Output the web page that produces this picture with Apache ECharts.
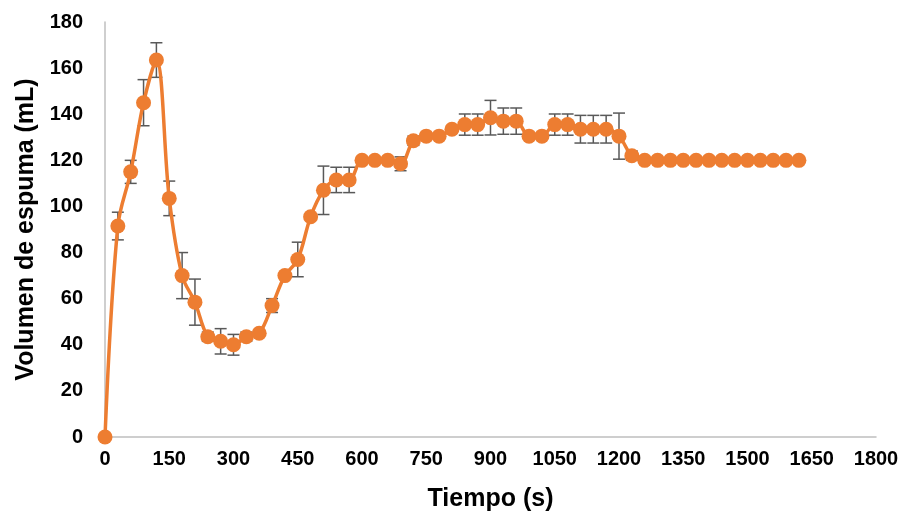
<!DOCTYPE html>
<html>
<head>
<meta charset="utf-8">
<script src="https://cdn.jsdelivr.net/npm/echarts@6/dist/echarts.min.js"></script>
<style>
html,body{margin:0;padding:0;background:#fff;}
#chart{width:905px;height:514px;}
</style>
</head>
<body>
<div id="chart"></div>
<script>
var times = [0,30,60,90,120,150,180,210,240,270,300,330,360,390,420,450,480,510,540,570,600,630,660,690,720,750,780,810,840,870,900,930,960,990,1020,1050,1080,1110,1140,1170,1200,1230,1260,1290,1320,1350,1380,1410,1440,1470,1500,1530,1560,1590,1620];
var volumes = [0,91.5,115,145,163.5,103.5,70,58.5,43.5,41.5,40,43.5,45,57,70,77,95.5,107,111.5,111.5,120,120,120,118.5,128.5,130.5,130.5,133.5,135.5,135.5,138.5,137,137,130.5,130.5,135.5,135.5,133.5,133.5,133.5,130.5,122,120,120,120,120,120,120,120,120,120,120,120,120,120];
var errors = [0,6,5,10,7.5,7.5,10,10,2,5.5,4.5,2,1,3,1,7.5,1,10.5,5.5,5.5,0,0,0,3,2,0,0,1.5,4.6,4.6,7.5,5.7,5.7,0,0,4.6,4.6,6,6,6,10,2,0,0,0,0,0,0,0,0,0,0,0,0,0];
var xTicks = [0,150,300,450,600,750,900,1050,1200,1350,1500,1650,1800];
var yTicks = [0,20,40,60,80,100,120,140,160,180];

var lineData = times.map(function(t,i){return [t, volumes[i]];});
var errData = times.map(function(t,i){return [t, volumes[i], errors[i]];}).filter(function(d){return d[2] > 0;});

var font = "Arial, 'Liberation Sans', sans-serif";
var chart = echarts.init(document.getElementById('chart'));
chart.setOption({
  animation: false,
  backgroundColor: '#ffffff',
  grid: {left: 105, right: 29, top: 22, bottom: 77, containLabel: false, outerBoundsMode: 'none'},
  xAxis: {
    type: 'value', min: xTicks[0], max: xTicks[xTicks.length-1], interval: xTicks[1]-xTicks[0],
    name: 'Tiempo (s)', nameLocation: 'middle', nameGap: 50,
    nameTextStyle: {fontFamily: font, fontWeight: 'bold', fontSize: 25, color: '#000'},
    axisLine: {show: true, lineStyle: {color: '#bfbfbf', width: 1.5}},
    axisTick: {show: false},
    splitLine: {show: false},
    axisLabel: {fontFamily: font, fontWeight: 'bold', fontSize: 20, color: '#000', margin: 12,
      formatter: function(v){return String(v);}}
  },
  yAxis: {
    type: 'value', min: yTicks[0], max: yTicks[yTicks.length-1], interval: yTicks[1]-yTicks[0],
    name: 'Volumen de espuma (mL)', nameLocation: 'middle', nameGap: 66,
    nameTextStyle: {fontFamily: font, fontWeight: 'bold', fontSize: 25, color: '#000'},
    axisLine: {show: true, lineStyle: {color: '#bfbfbf', width: 1.5}},
    axisTick: {show: false},
    splitLine: {show: false},
    axisLabel: {fontFamily: font, fontWeight: 'bold', fontSize: 20, color: '#000', margin: 22,
      formatter: function(v){return String(v);}}
  },
  series: [
    {
      type: 'custom',
      z: 1,
      data: errData,
      renderItem: function(params, api){
        var x = api.value(0), y = api.value(1), e = api.value(2);
        var top = api.coord([x, y + e]);
        var bot = api.coord([x, y - e]);
        var w = 6;
        var style = {stroke: '#595959', lineWidth: 1.5};
        return {
          type: 'group',
          children: [
            {type: 'line', shape: {x1: top[0], y1: top[1], x2: bot[0], y2: bot[1]}, style: style},
            {type: 'line', shape: {x1: top[0]-w, y1: top[1], x2: top[0]+w, y2: top[1]}, style: style},
            {type: 'line', shape: {x1: bot[0]-w, y1: bot[1], x2: bot[0]+w, y2: bot[1]}, style: style}
          ]
        };
      }
    },
    {
      type: 'line',
      z: 2,
      data: lineData,
      smooth: 0.35,
      symbol: 'circle',
      symbolSize: 15,
      lineStyle: {color: '#ED7D31', width: 3.5},
      itemStyle: {color: '#ED7D31'}
    }
  ]
});
</script>
</body>
</html>
